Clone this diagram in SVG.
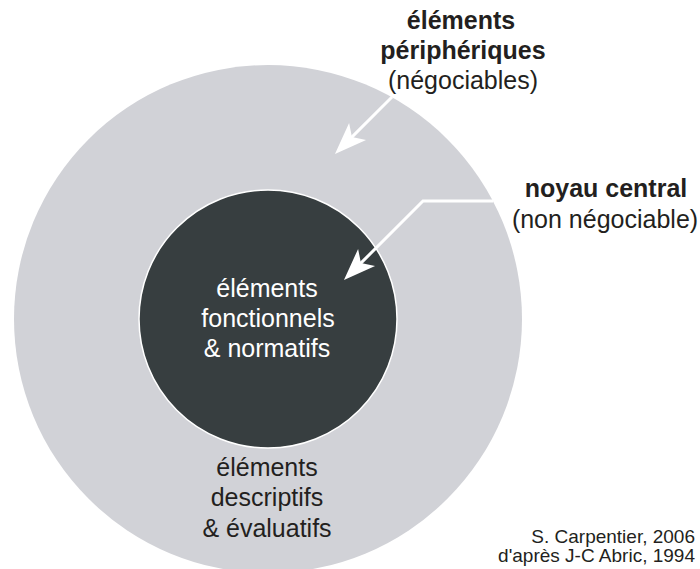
<svg xmlns="http://www.w3.org/2000/svg" width="700" height="569" viewBox="0 0 700 569">
  <style>
    text { font-family: "Liberation Sans", Arial, Helvetica, sans-serif; font-size: 25px; fill: #231f20; text-anchor: middle; }
    .b { font-weight: bold; }
    .w { fill: #ffffff; }
    .cite { font-size: 19px; text-anchor: end; }
    .conn { fill: none; stroke: #ffffff; stroke-width: 3; }
  </style>
  <defs>
    <marker id="ah" markerUnits="userSpaceOnUse" viewBox="-13 -13 34 26" markerWidth="34" markerHeight="26" refX="0" refY="0" orient="auto">
      <path d="M20,0 L-12,-12 L-4,0 L-12,12 Z" fill="#ffffff"/>
    </marker>
  </defs>
  <rect width="700" height="569" fill="#ffffff"/>
  <g id="peripherie">
    <circle cx="268" cy="319" r="254" fill="#d1d2d7"/>
    <text x="267" y="476">éléments</text>
    <text x="267" y="506">descriptifs</text>
    <text x="267" y="537">&amp; évaluatifs</text>
  </g>
  <g id="noyau">
    <circle cx="268" cy="319" r="129" fill="#373e40" stroke="#ffffff" stroke-width="1.5"/>
    <text class="w" x="267" y="297">éléments</text>
    <text class="w" x="268" y="327">fonctionnels</text>
    <text class="w" x="267" y="357">&amp; normatifs</text>
  </g>
  <g id="label-peripherique">
    <text class="b" x="461" y="29">éléments</text>
    <text class="b" x="463" y="59">périphériques</text>
    <text x="463" y="89">(négociables)</text>
  </g>
  <g id="label-noyau">
    <text class="b" x="606" y="197">noyau central</text>
    <text x="605" y="228">(non négociable)</text>
  </g>
  <g id="connectors">
    <path class="conn" d="M392,97 L349.1,139.9" marker-end="url(#ah)"/>
    <path class="conn" d="M493,201 L423,201 L358.1,265.9" marker-end="url(#ah)"/>
  </g>
  <g id="citation">
    <text class="cite" x="695" y="543">S. Carpentier, 2006</text>
    <text class="cite" x="695" y="562">d'après J-C Abric, 1994</text>
  </g>
</svg>
